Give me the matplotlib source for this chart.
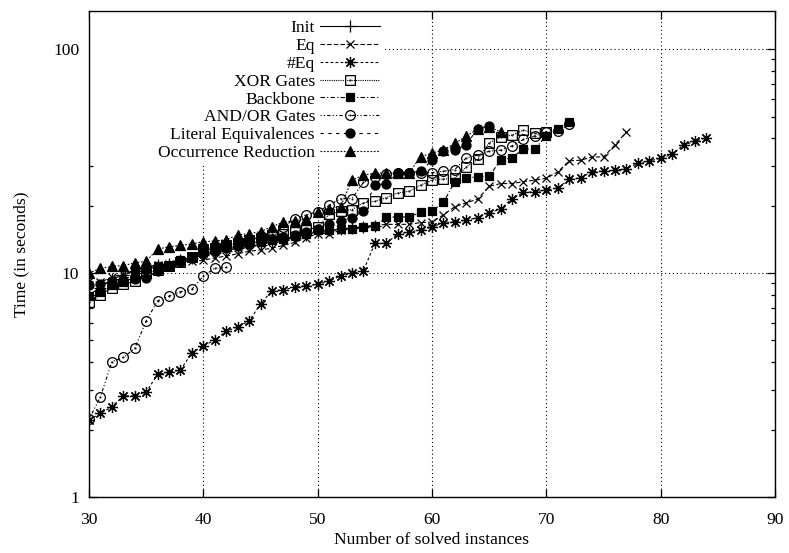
import numpy as np
import matplotlib
matplotlib.use("Agg")
import matplotlib.pyplot as plt
from matplotlib.path import Path
from matplotlib.patches import Rectangle
from matplotlib.ticker import LogLocator, NullFormatter, FixedLocator

plt.rcParams['font.family'] = ['Liberation Serif', 'DejaVu Serif']
plt.rcParams['font.size'] = 12.6

# solve times (s) per number of solved instances, first point at 30
init = [8.0, 8.6, 9.4, 9.8, 10.2, 10.6, 10.9, 11.0, 11.4, 11.7, 12.0, 12.3, 12.6,
        12.9, 13.2, 13.4, 13.8, 14.0, 14.4, 14.8, 15.3, 15.5, 15.7, 15.9, 16.1, 16.3]
eq = [9.2, 9.1, 9.6, 9.9, 10.3, 10.6, 10.9, 11.0, 11.2, 11.3, 11.4, 11.7, 11.9,
      12.2, 12.5, 12.7, 12.9, 13.3, 13.7, 14.4, 15.0, 15.0, 15.5, 15.8, 16.1, 16.3,
      16.5, 16.5, 16.5, 16.8, 16.9, 18.2, 19.8, 20.6, 21.4, 24.4, 25.1, 25.1, 25.6,
      26.0, 26.5, 28.3, 31.7, 31.9, 33.0, 33.0, 37.3, 42.7]
neq = [2.21, 2.36, 2.53, 2.83, 2.83, 2.94, 3.53, 3.60, 3.69, 4.41, 4.73, 5.02, 5.49,
       5.76, 6.10, 7.27, 8.34, 8.40, 8.66, 8.77, 8.91, 9.21, 9.70, 9.97, 10.24, 13.57,
       13.57, 15.0, 15.2, 15.6, 16.0, 16.8, 16.95, 17.25, 17.66, 18.6, 19.3, 21.5,
       22.9, 23.07, 23.5, 24.0, 26.2, 26.6, 28.4, 28.5, 28.8, 29.3, 30.9, 31.7, 32.5,
       33.9, 37.3, 38.8, 40.2]
xor = [7.45, 8.0, 8.6, 8.9, 9.2, 10.0, 10.3, 10.7, 11.2, 11.8, 12.8, 13.0, 13.3,
       13.6, 14.0, 14.4, 14.8, 15.0, 15.3, 15.6, 16.0, 18.3, 18.9, 19.2, 20.6, 20.9,
       21.7, 22.8, 23.2, 24.7, 26.0, 26.3, 26.5, 29.8, 32.2, 38.2, 40.4, 41.3, 43.5,
       42.0, 42.7]
backbone = [7.9, 8.2, 8.8, 9.15, 10.1, 10.4, 10.7, 10.7, 11.4, 11.8, 12.6, 12.9, 13.3,
            13.6, 13.6, 13.8, 14.0, 14.2, 14.6, 15.0, 15.5, 15.6, 15.7, 15.8, 16.0,
            16.2, 17.8, 17.8, 17.8, 18.7, 18.9, 20.7, 25.6, 26.6, 26.9, 27.1, 31.9,
            32.8, 35.8, 35.8, 41.1, 44.2, 47.4]
andor_low = [2.22, 2.80, 4.02, 4.20, 4.61, 6.11, 7.52, 7.89, 8.26, 8.46, 9.70, 10.5, 10.6]
andor_high = [14.0, 14.6, 15.0, 16.1, 17.4, 18.2, 18.8, 20.1, 21.5, 21.5, 25.4, 26.9,
              27.7, 27.9, 28.0, 28.1, 28.1, 28.5, 29.0, 32.7, 33.6, 35.0, 35.4, 37.0,
              39.5, 41.0, 42.5, 43.0, 46.2]
literal = [8.8, 8.9, 9.2, 9.3, 9.4, 9.5, 10.2, 10.8, 11.2, 11.7, 12.2, 12.6, 12.9,
           13.2, 13.5, 13.9, 14.2, 14.5, 14.8, 15.3, 15.8, 16.6, 17.0, 17.7, 19.0,
           24.7, 25.1, 27.9, 28.0, 28.5, 31.9, 35.2, 35.4, 37.5, 44.2, 45.3]
occred = [10.0, 10.5, 10.7, 10.8, 11.1, 11.3, 12.8, 13.1, 13.3, 13.5, 13.8, 13.9, 14.1,
          14.8, 15.0, 15.3, 16.1, 16.9, 17.1, 17.4, 18.8, 19.3, 19.8, 26.0, 27.4, 27.9,
          28.0, 28.0, 28.0, 33.1, 34.3, 35.5, 37.9, 40.9, 44.0, 45.0, 42.7]

first = 30
andor = andor_low + [np.nan] + andor_high  # the AND/OR run has a break after 42


def dotted_marker(outer):
    # open marker with a small dot in the middle
    return Path.make_compound_path(outer, Path.circle((0, 0), 0.08))


sq = Path([(-1, -1), (1, -1), (1, 1), (-1, 1), (-1, -1)],
          [Path.MOVETO, Path.LINETO, Path.LINETO, Path.LINETO, Path.CLOSEPOLY])
sq_dot = dotted_marker(sq)
circ_dot = dotted_marker(Path.circle((0, 0), 1))

series = [
    ("Init", init, dict(ls='-', marker='+', ms=8)),
    ("Eq", eq, dict(ls=(0, (4, 2)), marker='x', ms=6)),
    ("#Eq", neq, dict(ls=(0, (2.5, 2)), marker=(8, 2, 0), ms=8)),
    ("XOR Gates", xor, dict(ls=(0, (1, 1)), marker=sq_dot, ms=7, mfc='none')),
    ("Backbone", backbone, dict(ls=(0, (4, 2, 1, 2)), marker='s', ms=6)),
    ("AND/OR Gates", andor, dict(ls=(0, (1, 2, 1, 2, 3, 2)), marker=circ_dot, ms=7,
                                 mfc='none')),
    ("Literal Equivalences", literal, dict(ls=(0, (3, 4)), marker='o', ms=6.5)),
    ("Occurrence Reduction", occred, dict(ls=(0, (1.5, 1.5)), marker='^', ms=6.5)),
]

fig = plt.figure(figsize=(7.89, 5.53), dpi=100)
ax = fig.add_axes([89 / 789, 1 - 497 / 553, (775 - 89) / 789, (497 - 11) / 553])

for label, vals, style in series:
    xs = np.arange(first, first + len(vals))
    ax.plot(xs, vals, color='black', lw=0.8, mew=0.9, label=label, **style)

ax.set_yscale('log')
ax.set_xlim(30, 90)
ax.set_ylim(1, 148)
ax.xaxis.set_major_locator(FixedLocator([30, 40, 50, 60, 70, 80, 90]))
ax.yaxis.set_major_locator(FixedLocator([1, 10, 100]))
ax.yaxis.set_major_formatter(plt.FuncFormatter(lambda v, p: f"{v:g}"))
ax.yaxis.set_minor_locator(LogLocator(base=10, subs=np.arange(2, 10)))
ax.yaxis.set_minor_formatter(NullFormatter())

ax.tick_params(which='both', direction='in', top=True, right=True, labelsize=12.6)
ax.tick_params(which='major', length=6, width=0.9)
ax.tick_params(which='minor', length=3, width=0.9)
ax.tick_params(axis='x', which='major', pad=11)
ax.tick_params(axis='y', which='major', pad=7)
for s in ax.spines.values():
    s.set_linewidth(1.0)

ax.grid(True, which='major', ls=(0, (1, 2.5)), lw=0.8, color='black')
ax.set_axisbelow(True)

# blank area behind the key, hiding the grid there
ax.add_patch(Rectangle((0, 0.70), (385 - 89) / 686, 0.30, transform=ax.transAxes,
                       fc='white', ec='none', zorder=1))

ax.set_xlabel("Number of solved instances", labelpad=3)
ax.set_ylabel("Time (in seconds)", labelpad=17)

leg = ax.legend(loc='upper right', bbox_to_anchor=(385 / 789, 1 - 15 / 553),
                bbox_transform=fig.transFigure, markerfirst=False, frameon=True,
                fancybox=False, edgecolor='none', facecolor='white', framealpha=1,
                handlelength=3.4, handletextpad=0.3, labelspacing=0.086,
                borderpad=0.3, borderaxespad=0)
leg.set_zorder(5)

fig.savefig("out.png", dpi=100)
